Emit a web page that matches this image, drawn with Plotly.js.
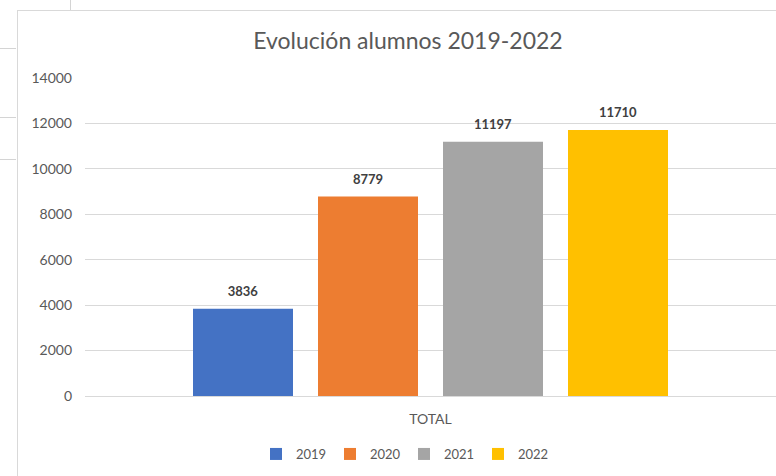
<!DOCTYPE html>
<html>
<head>
<meta charset="utf-8">
<script src="https://cdn.plot.ly/plotly-3.0.1.min.js"></script>
<style>
  html, body { margin: 0; padding: 0; background: #ffffff; }
  #wrap { position: relative; width: 776px; height: 476px; overflow: hidden; background: #ffffff; }
  .ln { position: absolute; background: #d4d4d4; }
  #chart { position: absolute; left: 0; top: 0; width: 776px; height: 476px; }
</style>
</head>
<body>
<div id="wrap">
  <!-- spreadsheet cell lines behind the chart object -->
  <div class="ln" style="left:0;top:48px;width:16px;height:1px;"></div>
  <div class="ln" style="left:0;top:117px;width:16px;height:1px;"></div>
  <div class="ln" style="left:0;top:159px;width:16px;height:1px;"></div>
  <div class="ln" style="left:70px;top:0;width:1px;height:10px;"></div>
  <!-- chart object border -->
  <div class="ln" style="left:17px;top:10px;width:759px;height:1px;background:#d9d9d9;"></div>
  <div class="ln" style="left:17px;top:10px;width:1px;height:466px;background:#d9d9d9;"></div>
  <div id="chart"></div>
</div>
<script>
const categories = ["TOTAL"];
const seriesNames = ["2019", "2020", "2021", "2022"];
const values2019 = [3836];
const values2020 = [8779];
const values2021 = [11197];
const values2022 = [11710];
const seriesValues = [values2019, values2020, values2021, values2022];
const seriesColors = ["#4472C4", "#ED7D31", "#A5A5A5", "#FFC000"];
const yTickValues = [0, 2000, 4000, 6000, 8000, 10000, 12000, 14000];
const titleText = "Evolución alumnos 2019-2022";

const FONT = "Lato, 'Open Sans', sans-serif";
const LABEL_LIFT = 7; // extra gap between bar top and its data label, px

const traces = seriesNames.map((name, i) => ({
  type: "bar",
  name: name,
  x: categories,
  y: seriesValues[i],
  text: seriesValues[i].map(v => String(v)),
  textposition: "outside",
  cliponaxis: false,
  textfont: { family: FONT, size: 13, color: "#404040", weight: "bold" },
  marker: { color: seriesColors[i] },
  hoverinfo: "x+y+name"
}));

const layout = {
  width: 776,
  height: 476,
  margin: { l: 85, r: 0, t: 78, b: 80 },
  paper_bgcolor: "rgba(0,0,0,0)",
  plot_bgcolor: "rgba(0,0,0,0)",
  font: { family: FONT, color: "#595959", size: 13 },
  title: {
    text: titleText,
    font: { family: FONT, size: 23, color: "#595959" },
    xref: "container", x: 408 / 776, xanchor: "center",
    yref: "container", y: 1 - 41 / 476, yanchor: "middle"
  },
  barmode: "group",
  bargap: 0.2764,
  bargroupgap: 0.2,
  xaxis: {
    type: "category",
    showgrid: false,
    showline: false,
    zeroline: false,
    ticks: "",
    ticklabelstandoff: 13,
    tickfont: { family: FONT, size: 14, color: "#595959" }
  },
  yaxis: {
    range: [0, 14000],
    tickvals: yTickValues,
    ticktext: yTickValues.map(v => String(v)),
    showgrid: true,
    gridcolor: "#d9d9d9",
    gridwidth: 1,
    zeroline: true,
    zerolinecolor: "#d9d9d9",
    zerolinewidth: 1,
    showline: false,
    ticks: "",
    ticklabelstandoff: 12,
    tickfont: { family: FONT, size: 14, color: "#595959" }
  },
  showlegend: true,
  legend: {
    orientation: "h",
    x: (404 - 85) / 691,
    xanchor: "center",
    y: (396 - 454) / 318,
    yanchor: "middle",
    entrywidth: 29,
    entrywidthmode: "pixels",
    itemwidth: 30,
    font: { family: FONT, size: 13, color: "#595959" },
    bgcolor: "rgba(0,0,0,0)"
  }
};

function liftLabels(gd) {
  gd.querySelectorAll("text.bartext").forEach(t => {
    const tr = t.getAttribute("transform") || "";
    if (!t.dataset.lifted) {
      t.setAttribute("transform", "translate(0,-" + LABEL_LIFT + ") " + tr);
      t.dataset.lifted = "1";
    }
  });
}

Plotly.newPlot("chart", traces, layout, { displayModeBar: false, responsive: false })
  .then(gd => liftLabels(gd));
</script>
</body>
</html>
